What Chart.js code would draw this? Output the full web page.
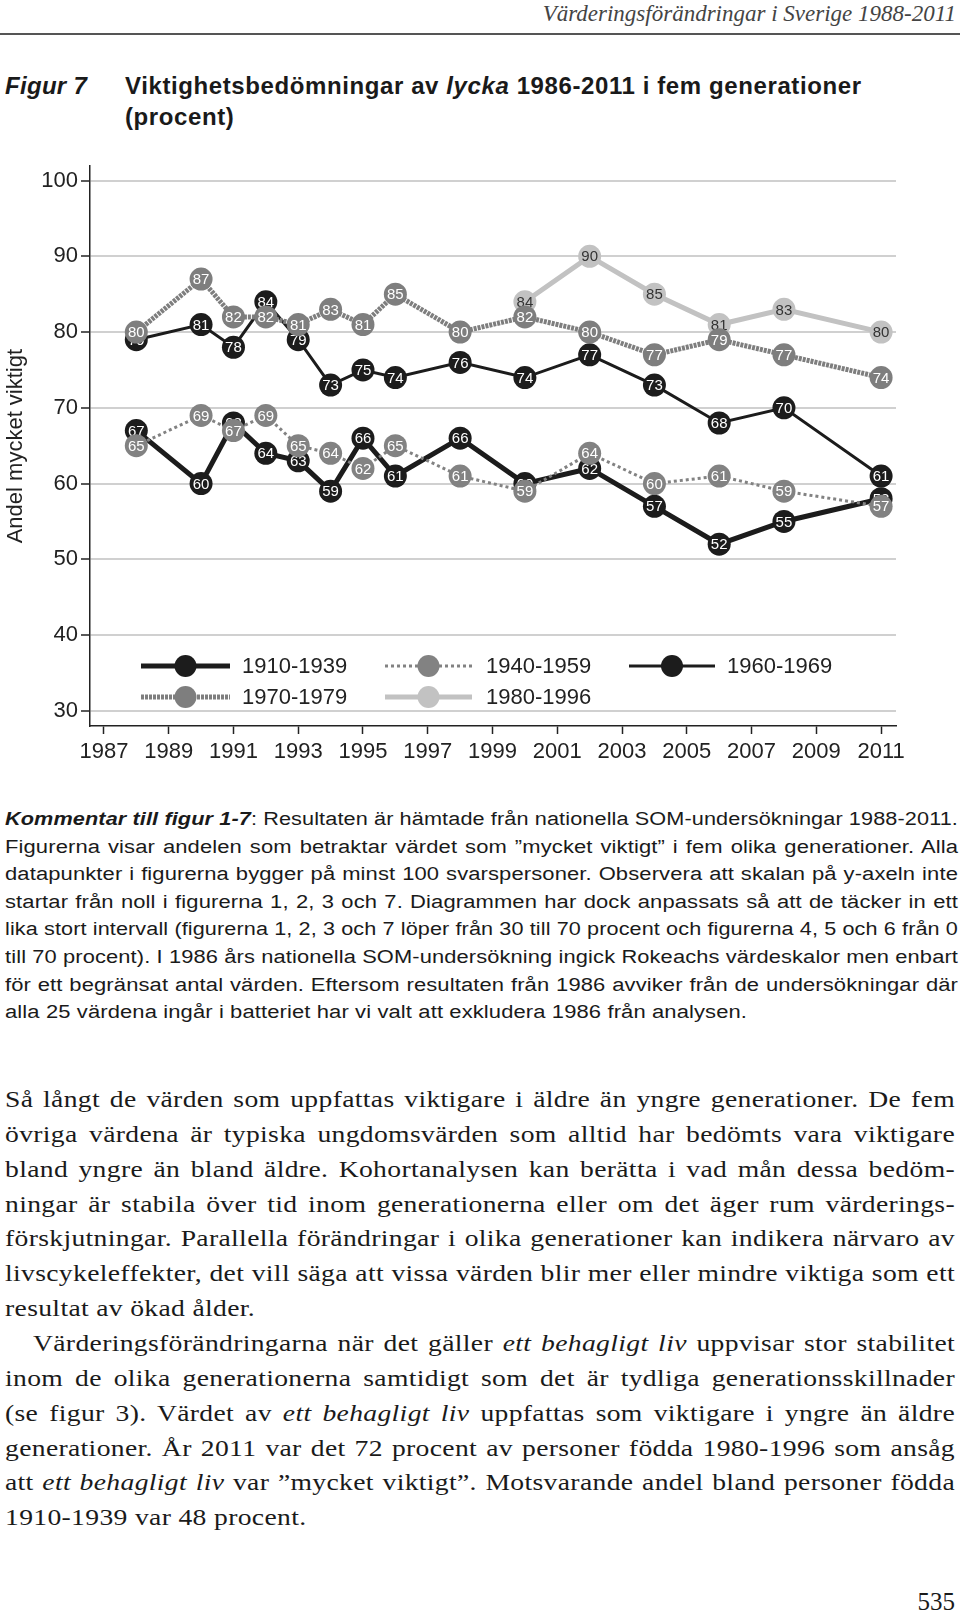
<!DOCTYPE html>
<html lang="sv">
<head>
<meta charset="utf-8">
<title>Figur 7 - Viktighetsbedömningar av lycka</title>
<script src="https://cdn.jsdelivr.net/npm/chart.js@4.4.0/dist/chart.umd.min.js"></script>
<style>
    body {
        margin: 0;
        width: 960px;
        height: 1618px;
        position: relative;
        overflow: hidden;
        background: #fff;
        color: #1a1a1a;
        font-family: "Liberation Sans", Arial, sans-serif;
    }
    .header {
        position: absolute;
        right: 4px;
        top: 0;
        font-family: "Liberation Serif", serif;
        font-style: italic;
        font-size: 23px;
        line-height: 28px;
        color: #444;
    }
    .rule {
        position: absolute;
        left: 0;
        top: 33px;
        width: 960px;
        height: 2px;
        background: #555;
    }
    .fig-num, .fig-title {
        position: absolute;
        top: 70px;
        font-weight: bold;
        font-size: 24px;
        line-height: 31px;
        letter-spacing: 0.6px;
    }
    .fig-num { left: 5px; font-style: italic; letter-spacing: 0.3px; }
    .fig-title { left: 125px; }
    #chart-wrap {
        position: absolute;
        left: 0;
        top: 150px;
        width: 960px;
        height: 620px;
    }
    .line {
        position: absolute;
        left: 5px;
        white-space: nowrap;
        text-align: justify;
        text-align-last: justify;
        transform-origin: 0 0;
    }
    .line.last { text-align-last: left; }
    .comment .line {
        font-size: 18px;
        line-height: 27px;
        letter-spacing: 0.1px;
    }
    .body-text .line {
        font-family: "Liberation Serif", serif;
        font-size: 24px;
        line-height: 34px;
        letter-spacing: 0.3px;
    }
    .page-no {
        position: absolute;
        right: 5px;
        top: 1588px;
        font-family: "Liberation Serif", serif;
        font-size: 25px;
        line-height: 28px;
    }
</style>
</head>
<body>

<div class="header">Värderingsförändringar i Sverige 1988-2011</div>
<div class="rule"></div>

<div class="fig-num">Figur 7</div>
<div class="fig-title">Viktighetsbedömningar av <i>lycka</i> 1986-2011 i fem generationer<br>(procent)</div>

<div id="chart-wrap"><canvas id="chart"></canvas></div>

<div class="comment" id="comment">
    <div class="line"><b><i>Kommentar till figur 1-7</i></b>: Resultaten är hämtade från nationella SOM-undersökningar 1988-2011.</div>
    <div class="line">Figurerna visar andelen som betraktar värdet som ”mycket viktigt” i fem olika generationer. Alla</div>
    <div class="line">datapunkter i figurerna bygger på minst 100 svarspersoner. Observera att skalan på y-axeln inte</div>
    <div class="line">startar från noll i figurerna 1, 2, 3 och 7. Diagrammen har dock anpassats så att de täcker in ett</div>
    <div class="line">lika stort intervall (figurerna 1, 2, 3 och 7 löper från 30 till 70 procent och figurerna 4, 5 och 6 från 0</div>
    <div class="line">till 70 procent). I 1986 års nationella SOM-undersökning ingick Rokeachs värdeskalor men enbart</div>
    <div class="line">för ett begränsat antal värden. Eftersom resultaten från 1986 avviker från de undersökningar där</div>
    <div class="line last">alla 25 värdena ingår i batteriet har vi valt att exkludera 1986 från analysen.</div>
</div>

<div class="body-text" id="body-text">
    <div class="line">Så långt de värden som uppfattas viktigare i äldre än yngre generationer. De fem</div>
    <div class="line">övriga värdena är typiska ungdomsvärden som alltid har bedömts vara viktigare</div>
    <div class="line">bland yngre än bland äldre. Kohortanalysen kan berätta i vad mån dessa bedöm-</div>
    <div class="line">ningar är stabila över tid inom generationerna eller om det äger rum värderings-</div>
    <div class="line">förskjutningar. Parallella förändringar i olika generationer kan indikera närvaro av</div>
    <div class="line">livscykeleffekter, det vill säga att vissa värden blir mer eller mindre viktiga som ett</div>
    <div class="line last">resultat av ökad ålder.</div>
    <div class="line indent">Värderingsförändringarna när det gäller <i>ett behagligt liv</i> uppvisar stor stabilitet</div>
    <div class="line">inom de olika generationerna samtidigt som det är tydliga generationsskillnader</div>
    <div class="line">(se figur 3). Värdet av <i>ett behagligt liv</i> uppfattas som viktigare i yngre än äldre</div>
    <div class="line">generationer. År 2011 var det 72 procent av personer födda 1980-1996 som ansåg</div>
    <div class="line">att <i>ett behagligt liv</i> var ”mycket viktigt”. Motsvarande andel bland personer födda</div>
    <div class="line last">1910-1939 var 48 procent.</div>
</div>

<div class="page-no">535</div>

<script>
/**
 * Data
 */
const years = [1988, 1990, 1991, 1992, 1993, 1994, 1995, 1996, 1998, 2000, 2002, 2004, 2006, 2008, 2011];
const gen1910 = [67, 60, 68, 64, 63, 59, 66, 61, 66, 60, 62, 57, 52, 55, 58];
const gen1940 = [65, 69, 67, 69, 65, 64, 62, 65, 61, 59, 64, 60, 61, 59, 57];
const gen1960 = [79, 81, 78, 84, 79, 73, 75, 74, 76, 74, 77, 73, 68, 70, 61];
const gen1970 = [80, 87, 82, 82, 81, 83, 81, 85, 80, 82, 80, 77, 79, 77, 74];
const gen1980 = [null, null, null, null, null, null, null, null, null, 84, 90, 85, 81, 83, 80];
const generations = ['1910-1939', '1940-1959', '1960-1969', '1970-1979', '1980-1996'];
const yTicks = [30, 40, 50, 60, 70, 80, 90, 100];
const xTicks = [1987, 1989, 1991, 1993, 1995, 1997, 1999, 2001, 2003, 2005, 2007, 2009, 2011];

/**
 * Text lines: the print face is wider than Liberation, so each line is
 * stretched a little and justified to the column width
 */
function fitLines(selector, top, step, stretch, width) {
    document.querySelectorAll(selector).forEach(function (el, i) {
        let w = width;
        if (el.classList.contains('indent')) {
            el.style.left = '33px';
            w = width - 28;
        }
        el.style.top = (top + i * step) + 'px';
        el.style.width = 'max-content';
        const natural = el.getBoundingClientRect().width;
        const s = Math.min(stretch, w / natural);
        el.style.width = (w / s) + 'px';
        el.style.transform = 'scaleX(' + s + ')';
    });
}

fitLines('#comment .line', 818 - 12, 27.6, 1.22, 953);
fitLines('#body-text .line', 1099 - 17, 34.85, 1.15, 950);

/**
 * Chart
 */
const fontFamily = '"Liberation Sans", Arial, sans-serif';
Chart.defaults.font.family = fontFamily;
Chart.defaults.color = '#222';

function points(values) {
    let out = [];
    for (let i = 0; i < years.length; i++) {
        if (values[i] != null) {
            out.push({x: years[i], y: values[i]});
        }
    }
    return out;
}

function series(label, values, color, width, dash, labelColor, order) {
    return {
        label: label,
        data: points(values),
        borderColor: color,
        borderWidth: width,
        borderDash: dash,
        backgroundColor: color,
        pointRadius: 11.5,
        pointHoverRadius: 11.5,
        pointBackgroundColor: color,
        pointBorderWidth: 0,
        tension: 0,
        labelColor: labelColor,
        order: order
    };
}

// higher order is drawn first, so grey series sit on top of the black ones
const datasets = [
    series(generations[0], gen1910, '#1c1c1c', 5, [], '#fff', 5),
    series(generations[1], gen1940, '#828282', 3, [3, 3], '#fff', 2),
    series(generations[2], gen1960, '#1c1c1c', 3, [], '#fff', 4),
    series(generations[3], gen1970, '#7e7e7e', 5, [3, 1], '#fff', 1),
    series(generations[4], gen1980, '#c2c2c2', 5, [], '#333', 3)
];

// value inside each marker, drawn per dataset so later series cover it
const pointLabels = {
    id: 'pointLabels',
    afterDatasetDraw(chart, args) {
        const ds = chart.data.datasets[args.index];
        const ctx = chart.ctx;
        ctx.save();
        ctx.font = '15px ' + fontFamily;
        ctx.textAlign = 'center';
        ctx.textBaseline = 'middle';
        ctx.fillStyle = ds.labelColor;
        args.meta.data.forEach(function (pt, i) {
            ctx.fillText(String(ds.data[i].y), pt.x, pt.y + 1);
        });
        ctx.restore();
    }
};

// legend box inside the plot, three columns
const legendSlots = [
    {x0: 141, x1: 230, tx: 242, y: 516},
    {x0: 385, x1: 472, tx: 486, y: 516},
    {x0: 629, x1: 715, tx: 727, y: 516},
    {x0: 141, x1: 230, tx: 242, y: 547},
    {x0: 385, x1: 472, tx: 486, y: 547}
];

const genLegend = {
    id: 'genLegend',
    afterDraw(chart) {
        const ctx = chart.ctx;
        ctx.save();
        chart.data.datasets.forEach(function (ds, i) {
            const s = legendSlots[i];
            ctx.strokeStyle = ds.borderColor;
            ctx.lineWidth = ds.borderWidth;
            ctx.setLineDash(ds.borderDash);
            ctx.beginPath();
            ctx.moveTo(s.x0, s.y);
            ctx.lineTo(s.x1, s.y);
            ctx.stroke();
            ctx.setLineDash([]);
            ctx.fillStyle = ds.pointBackgroundColor;
            ctx.beginPath();
            ctx.arc((s.x0 + s.x1) / 2, s.y, 11, 0, Math.PI * 2);
            ctx.fill();
            ctx.fillStyle = '#222';
            ctx.font = '22px ' + fontFamily;
            ctx.textAlign = 'left';
            ctx.textBaseline = 'middle';
            ctx.fillText(ds.label, s.tx, s.y + 1);
        });
        ctx.restore();
    }
};

new Chart(document.getElementById('chart'), {
    type: 'line',
    data: {datasets: datasets},
    options: {
        responsive: true,
        maintainAspectRatio: false,
        animation: false,
        layout: {padding: {top: 15, right: 64, left: 0, bottom: 0}},
        plugins: {
            legend: {display: false},
            tooltip: {enabled: false}
        },
        scales: {
            x: {
                type: 'linear',
                min: 1986.57,
                max: 2011.46,
                afterBuildTicks: function (scale) {
                    scale.ticks = xTicks.map(function (v) { return {value: v}; });
                },
                afterFit: function (scale) { scale.height = 44; },
                border: {color: '#222', width: 1.5},
                grid: {drawOnChartArea: false, tickColor: '#222', tickLength: 8, tickWidth: 1.5},
                ticks: {
                    font: {size: 22},
                    color: '#222',
                    padding: 5,
                    maxRotation: 0,
                    autoSkip: false,
                    callback: function (v) { return String(v); }
                }
            },
            y: {
                min: 28,
                max: 101.9,
                afterBuildTicks: function (scale) {
                    scale.ticks = yTicks.map(function (v) { return {value: v}; });
                },
                afterFit: function (scale) { scale.width = 90; },
                border: {color: '#222', width: 1.5},
                grid: {color: '#d0d0d0', lineWidth: 2, tickColor: '#222', tickLength: 9, tickWidth: 1.5},
                ticks: {font: {size: 22}, color: '#222', padding: 3},
                title: {
                    display: true,
                    text: 'Andel mycket viktigt',
                    font: {size: 22},
                    color: '#222',
                    padding: {top: 3, bottom: 0}
                }
            }
        }
    },
    plugins: [pointLabels, genLegend]
});
</script>
</body>
</html>
